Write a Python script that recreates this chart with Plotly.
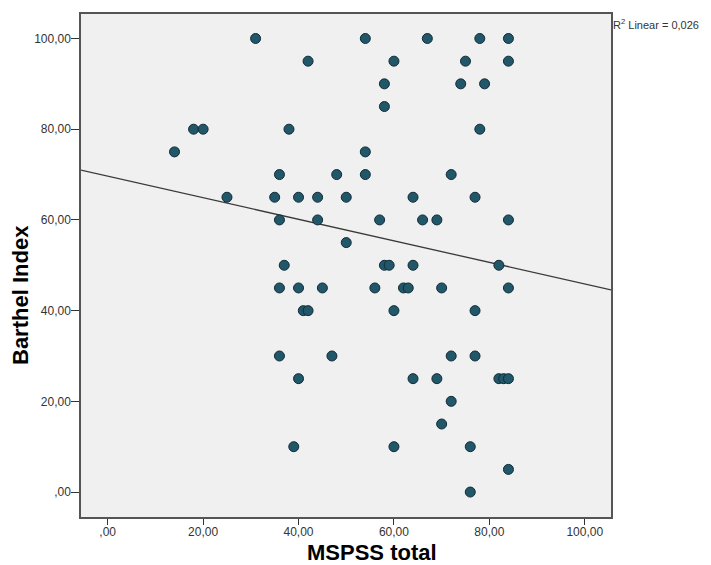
import numpy as np
import plotly.graph_objects as go

# MSPSS total (x) and Barthel Index (y)
mspss = [31, 54, 67, 78, 84,
         42, 60, 75, 84,
         58, 74, 79,
         58,
         18, 20, 38, 78,
         14, 54,
         36, 48, 54, 72,
         25, 35, 40, 44, 50, 64, 77,
         36, 44, 57, 66, 69, 84,
         50,
         37, 58, 59, 64, 82,
         36, 40, 45, 56, 62, 63, 70, 84,
         41, 42, 60, 77,
         36, 47, 72, 77,
         40, 64, 69, 82, 83, 84,
         72,
         70,
         39, 60, 76,
         84,
         76]
barthel = [100, 100, 100, 100, 100,
           95, 95, 95, 95,
           90, 90, 90,
           85,
           80, 80, 80, 80,
           75, 75,
           70, 70, 70, 70,
           65, 65, 65, 65, 65, 65, 65,
           60, 60, 60, 60, 60, 60,
           55,
           50, 50, 50, 50, 50,
           45, 45, 45, 45, 45, 45, 45, 45,
           40, 40, 40, 40,
           30, 30, 30, 30,
           25, 25, 25, 25, 25, 25,
           20,
           15,
           10, 10, 10,
           5,
           0]

tick_vals = [0, 20, 40, 60, 80, 100]
tick_text = [",00", "20,00", "40,00", "60,00", "80,00", "100,00"]
x_range = [-5.6, 105.5]
y_range = [-5.5, 105.4]
r2_label = "R<sup>2</sup> Linear = 0,026"

slope, intercept = np.polyfit(mspss, barthel, 1)
line_x = np.array(x_range)
line_y = intercept + slope * line_x

fig = go.Figure()
fig.add_trace(go.Scatter(x=line_x, y=line_y, mode="lines",
                         line=dict(color="#3a3a3a", width=1.3),
                         hoverinfo="skip", showlegend=False))
fig.add_trace(go.Scatter(x=mspss, y=barthel, mode="markers",
                         marker=dict(size=10, color="#22576a",
                                     line=dict(color="#0f2c36", width=1)),
                         showlegend=False))

axis_common = dict(showgrid=False, zeroline=False, showline=True, mirror=True,
                   linecolor="#555555", linewidth=1.5, ticks="outside",
                   tickcolor="#333333", tickwidth=1,
                   tickfont=dict(family="Liberation Sans, Arial", size=12, color="#333333"),
                   tickvals=tick_vals, ticktext=tick_text)

# page body has an 8px margin, so the figure is 8px smaller and margins shifted
fig.update_layout(
    width=703, height=557,
    margin=dict(l=73, r=100, t=6, b=48, autoexpand=False),
    paper_bgcolor="white", plot_bgcolor="#f0f0f0",
    xaxis=dict(range=x_range, ticklen=6, ticklabelstandoff=-3, **axis_common),
    yaxis=dict(range=y_range, ticklen=8, ticklabelstandoff=-2, **axis_common),
    annotations=[
        dict(text="MSPSS total", xref="paper", yref="paper", x=(372 - 81) / 530, y=0,
             yshift=-35, xanchor="center", yanchor="middle", showarrow=False,
             font=dict(family="Liberation Sans, Arial", size=22, color="black", weight="bold")),
        dict(text="Barthel Index", xref="paper", yref="paper", x=0, y=(517 - 295) / 503,
             xshift=-61, xanchor="center", yanchor="middle", textangle=-90, showarrow=False,
             font=dict(family="Liberation Sans, Arial", size=22, color="black", weight="bold")),
        dict(text=r2_label, xref="paper", yref="paper", x=1, y=1, xshift=0, yshift=-1,
             xanchor="left", yanchor="top", showarrow=False,
             font=dict(family="Liberation Sans, Arial", size=11, color="#333333")),
    ],
)

fig.write_html("out.html")
